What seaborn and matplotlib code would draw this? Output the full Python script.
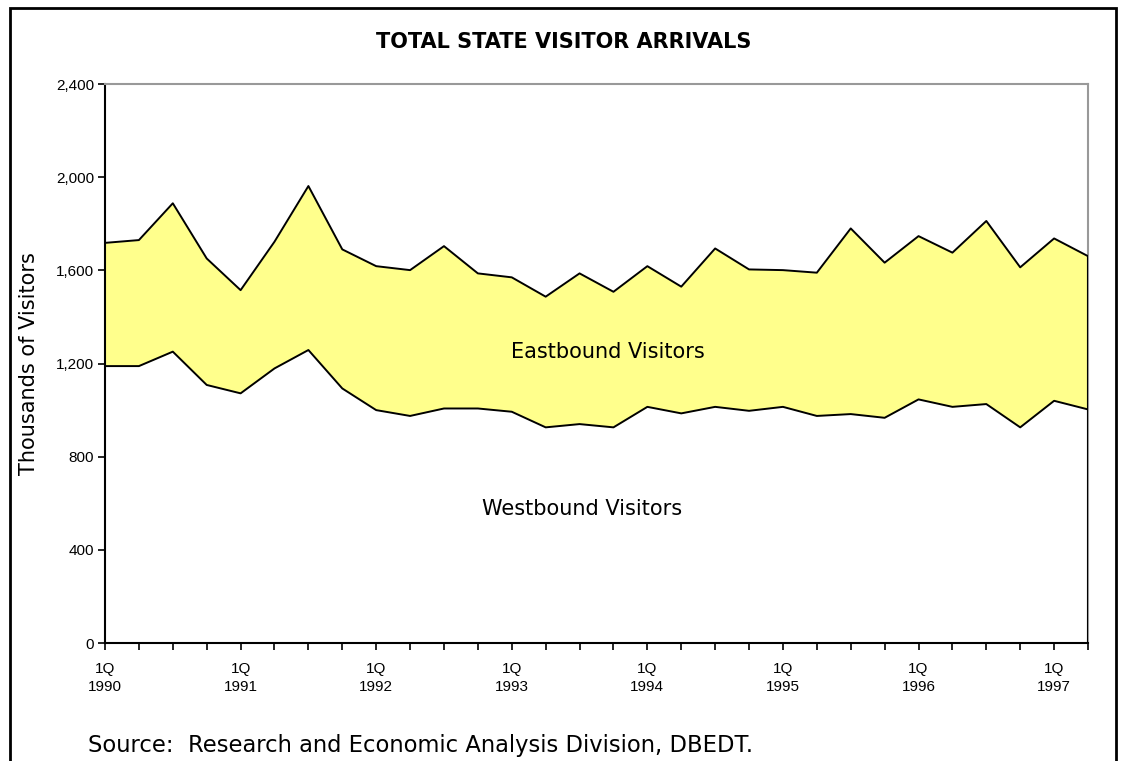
import numpy as np
import pandas as pd
import seaborn as sns
import matplotlib.pyplot as plt
from matplotlib.patches import Rectangle

# quarters 1Q 1990 .. 2Q 1997
years = [1990, 1991, 1992, 1993, 1994, 1995, 1996, 1997]
quarters = [f'{q}Q {y}' for y in years for q in (1, 2, 3, 4)][:30]

# thousands of visitors
westbound = [1189, 1189, 1251, 1108, 1072, 1179, 1258, 1093, 1000, 975,
             1007, 1007, 993, 926, 940, 926, 1014, 986, 1014, 997,
             1014, 975, 983, 967, 1046, 1014, 1026, 926, 1040, 1003]
eastbound = [529, 541, 637, 543, 443, 544, 704, 597, 618, 626,
             697, 580, 577, 561, 647, 582, 604, 544, 680, 607,
             587, 615, 797, 666, 701, 662, 786, 687, 697, 658]

y_ticks = [0, 400, 800, 1200, 1600, 2000, 2400]

df = pd.DataFrame({'quarter': quarters, 'west': westbound, 'east': eastbound})
df['pos'] = np.arange(len(df))
df['total'] = df['west'] + df['east']

sns.set_style('ticks')
plt.rcParams['font.family'] = ['Liberation Sans', 'DejaVu Sans']
plt.rcParams.update({'text.color': 'black', 'axes.labelcolor': 'black',
                     'xtick.color': 'black', 'ytick.color': 'black'})

fig = plt.figure(figsize=(11.22, 7.61), dpi=100)
ax = fig.add_axes([0.0936, 0.155, 0.8761, 0.7346])

ax.fill_between(df['pos'], df['west'], df['total'], color='#ffff8c', lw=0, zorder=1)
sns.lineplot(x='pos', y='total', data=df, color='black', lw=1.4, ax=ax, zorder=3)
sns.lineplot(x='pos', y='west', data=df, color='black', lw=1.4, ax=ax, zorder=3)
ax.vlines(df['pos'].iloc[-1], 0, df['total'].iloc[-1], color='black', lw=1.5, zorder=3)

ax.set_xlim(df['pos'].iloc[0], df['pos'].iloc[-1])
ax.set_ylim(0, 2400)
ax.set_yticks(y_ticks)
ax.set_yticklabels([f'{v:,}' for v in y_ticks], fontsize=11)
ax.set_xticks(df['pos'])
ax.set_xticklabels([q.replace(' ', '\n') if q.startswith('1Q') else '' for q in df['quarter']],
                   fontsize=11, linespacing=1.3)
ax.tick_params(axis='both', direction='out', length=5, width=1.2, color='black', pad=3)
ax.tick_params(axis='x', pad=9)

ax.set_xlabel('')
ax.set_ylabel('Thousands of Visitors', fontsize=15, family='DejaVu Sans', labelpad=12)

for side in ['left', 'bottom']:
    ax.spines[side].set_color('black')
    ax.spines[side].set_linewidth(1.5)
for side in ['top', 'right']:
    ax.spines[side].set_visible(True)
    ax.spines[side].set_color('#999999')
    ax.spines[side].set_linewidth(1.5)

ax.text(0.512, 0.52, 'Eastbound Visitors', transform=ax.transAxes,
        ha='center', va='center', fontsize=15, family='DejaVu Sans')
ax.text(0.485, 0.24, 'Westbound Visitors', transform=ax.transAxes,
        ha='center', va='center', fontsize=15, family='DejaVu Sans')

fig.text(0.502, 0.945, 'TOTAL STATE VISITOR ARRIVALS', ha='center', va='center',
         fontsize=15, fontweight='bold', family='DejaVu Sans')
fig.text(0.0784, 0.021, 'Source:  Research and Economic Analysis Division, DBEDT.',
         ha='left', va='center', fontsize=16.3, family='DejaVu Sans')

# outer frame of the chart
fig.patches.append(Rectangle((10 / 1122, -0.05), 1106 / 1122, 1.05 - 8 / 761,
                             transform=fig.transFigure, fill=False,
                             edgecolor='black', lw=2))

fig.savefig('out.png', dpi=100)
